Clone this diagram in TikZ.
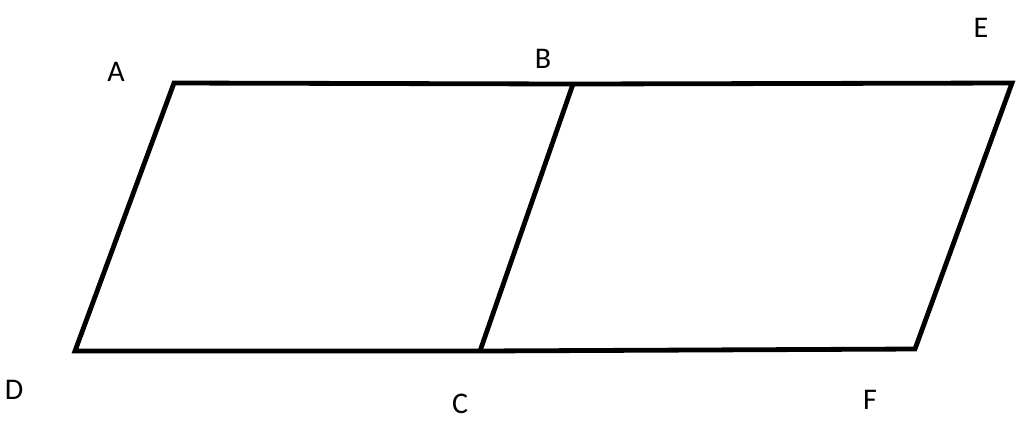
\documentclass[tikz,border=0pt]{standalone}
\usepackage{fontspec}
\setmainfont{Carlito}
\begin{document}
\begin{tikzpicture}[x=0.5pt,y=-0.5pt,
  edge/.style={line width=2.4pt,line join=miter},
  lbl/.style={font=\fontsize{15}{15}\selectfont,inner sep=0pt}]
\useasboundingbox (0,0) rectangle (1024,420);
\coordinate (A) at (174,83);
\coordinate (B) at (573,84);
\coordinate (E) at (1012,83);
\coordinate (D) at (75,351);
\coordinate (C) at (480,351);
\coordinate (F) at (915,349);
\draw[edge] (D) -- (A) -- (B) -- (E) -- (F) -- (C) -- (D) -- cycle;
\draw[edge] (B) -- (C);
\node[lbl] (lA) at (116,72) {A};
\node[lbl] (lB) at (543,59) {B};
\node[lbl] (lE) at (981,28) {E};
\node[lbl] (lD) at (14,390) {D};
\node[lbl] (lC) at (460,404) {C};
\node[lbl] (lF) at (870,400) {F};
\end{tikzpicture}
\end{document}
